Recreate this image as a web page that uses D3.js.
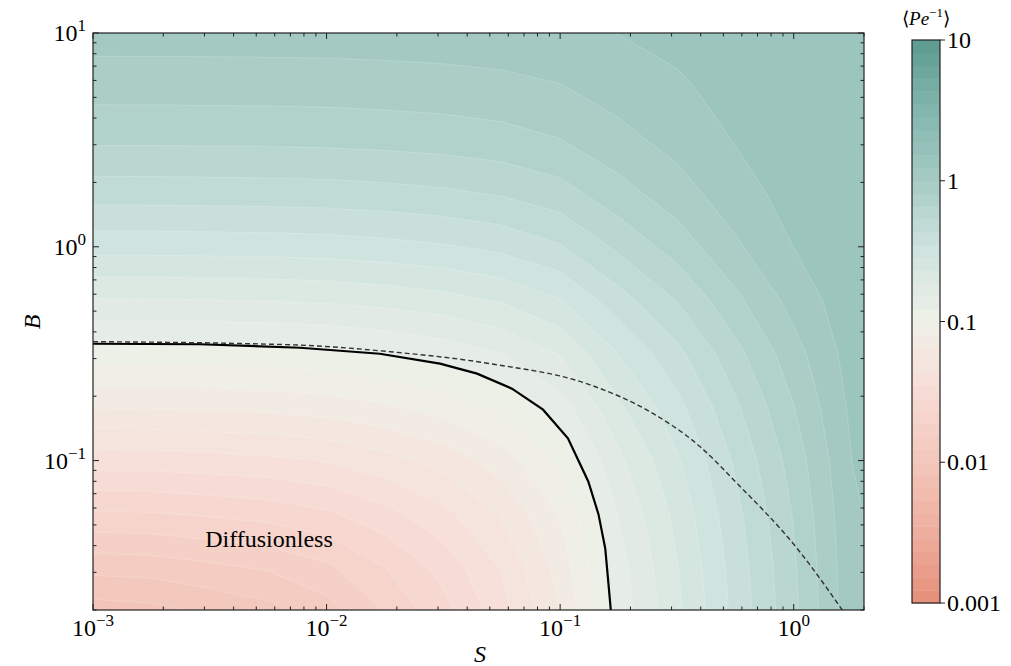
<!DOCTYPE html>
<html>
<head>
<meta charset="utf-8">
<script src="https://cdn.jsdelivr.net/npm/d3@7"></script>
<style>
  body { margin: 0; background: #fff; }
  svg text { font-family: "Liberation Serif", "Times New Roman", serif; fill: #000; }
</style>
</head>
<body>
<div id="chart"></div>
<script>
var sGrid = [0.001, 0.00178, 0.00316, 0.00562, 0.01, 0.0178, 0.0316, 0.0562, 0.1, 0.178, 0.316, 0.562, 1, 1.78, 3.16];
var bGrid = [0.0178, 0.0316, 0.0562, 0.1, 0.178, 0.316, 0.562, 1, 1.78, 3.16, 5.62, 10];

// one row per B value (B ascending), one column per S value
var peInv = [
  [0.0083, 0.0086, 0.0096, 0.0107, 0.0130, 0.0180, 0.0255, 0.0386, 0.0652, 0.1326, 0.2185, 0.3703, 0.6211, 1.1518, 1.4048],
  [0.0132, 0.0135, 0.0145, 0.0156, 0.0180, 0.0231, 0.0308, 0.0441, 0.0713, 0.1402, 0.2278, 0.3827, 0.6376, 1.1668, 1.4106],
  [0.0224, 0.0227, 0.0237, 0.0249, 0.0274, 0.0326, 0.0407, 0.0545, 0.0828, 0.1542, 0.2453, 0.4058, 0.6682, 1.1936, 1.4200],
  [0.0386, 0.0390, 0.0400, 0.0413, 0.0439, 0.0495, 0.0581, 0.0729, 0.1030, 0.1791, 0.2760, 0.4462, 0.7205, 1.2352, 1.4337],
  [0.0666, 0.0670, 0.0682, 0.0696, 0.0725, 0.0787, 0.0882, 0.1045, 0.1378, 0.2219, 0.3285, 0.5145, 0.8057, 1.2925, 1.4509],
  [0.1091, 0.1096, 0.1109, 0.1126, 0.1158, 0.1229, 0.1337, 0.1523, 0.1902, 0.2858, 0.4065, 0.6134, 0.9207, 1.3533, 1.4672],
  [0.1848, 0.1853, 0.1869, 0.1889, 0.1928, 0.2013, 0.2141, 0.2364, 0.2817, 0.3954, 0.5367, 0.7699, 1.0795, 1.4133, 1.4812],
  [0.3082, 0.3089, 0.3108, 0.3131, 0.3179, 0.3281, 0.3437, 0.3705, 0.4248, 0.5589, 0.7201, 0.9647, 1.2353, 1.4531, 1.4901],
  [0.4763, 0.4770, 0.4792, 0.4818, 0.4870, 0.4984, 0.5158, 0.5455, 0.6050, 0.7478, 0.9094, 1.1295, 1.3333, 1.4718, 1.4937],
  [0.6823, 0.6829, 0.6850, 0.6876, 0.6928, 0.7041, 0.7209, 0.7497, 0.8064, 0.9370, 1.0748, 1.2448, 1.3875, 1.4803, 1.4954],
  [0.8872, 0.8878, 0.8896, 0.8919, 0.8963, 0.9058, 0.9203, 0.9445, 0.9912, 1.0951, 1.1986, 1.3197, 1.4179, 1.4840, 1.4962],
  [1.0963, 1.0967, 1.0980, 1.0996, 1.1027, 1.1095, 1.1195, 1.1364, 1.1681, 1.2372, 1.3033, 1.3788, 1.4415, 1.4872, 1.4968]
];

// solid boundary line (S, B)
var solidS = [0.001, 0.00287, 0.0077, 0.0169, 0.0306, 0.0441, 0.0622, 0.0845, 0.108, 0.132, 0.146, 0.156, 0.1607, 0.165];
var solidB = [0.352, 0.350, 0.337, 0.316, 0.284, 0.255, 0.217, 0.173, 0.127, 0.0798, 0.056, 0.0388, 0.0272, 0.0197];

// dashed line (S, B)
var dashS = [0.001, 0.00698, 0.0187, 0.0501, 0.1346, 0.243, 0.398, 0.562, 1.035, 1.63];
var dashB = [0.360, 0.348, 0.323, 0.284, 0.226, 0.169, 0.116, 0.0798, 0.0388, 0.0197];

var xTicks = [0.001, 0.01, 0.1, 1];
var xTickExp = ["\u22123", "\u22122", "\u22121", "0"];
var yTicks = [0.1, 1, 10];
var yTickExp = ["\u22121", "0", "1"];
var cbTicks = [0.001, 0.01, 0.1, 1, 10];
var cbLabels = ["0.001", "0.01", "0.1", "1", "10"];

var width = 1011, height = 666;
var pLeft = 93, pRight = 864, pTop = 33, pBottom = 610;

var svg = d3.select("#chart").append("svg")
    .attr("width", width)
    .attr("height", height);

var x = d3.scaleLog().domain([0.001, 2]).range([pLeft, pRight]);
var y = d3.scaleLog().domain([0.02, 10]).range([pBottom, pTop]);

// colour map on log10 of the value
var cmap = d3.scaleLinear()
    .domain([-3, -2.5, -2, -1.5, -1, -0.5, 0, 0.5, 1])
    .range(["#e58e79", "#eeae9f", "#f3c6ba", "#f7dcd6", "#eff1e8", "#cfe4df", "#a6cbc4", "#83b6ae", "#5b9a90"])
    .interpolate(d3.interpolateLab);

var levels = d3.range(45).map(function (k) { return -3 + k * 4 / 44; });

// grid coordinate -> data value (log interpolation between grid points)
function gridToVal(c, grid) {
    var f = c - 0.5;
    var i = Math.max(0, Math.min(grid.length - 2, Math.floor(f)));
    var t = f - i;
    var a = Math.log10(grid[i]), b = Math.log10(grid[i + 1]);
    return Math.pow(10, a + t * (b - a));
}

var nx = sGrid.length, ny = bGrid.length;
var flat = [];
peInv.forEach(function (row) { row.forEach(function (v) { flat.push(Math.log10(v)); }); });

var contours = d3.contours().size([nx, ny]).thresholds(levels)(flat);

var proj = d3.geoTransform({
    point: function (px, py) {
        this.stream.point(x(gridToVal(px, sGrid)), y(gridToVal(py, bGrid)));
    }
});
var path = d3.geoPath(proj);

svg.append("clipPath").attr("id", "plotclip")
    .append("rect")
    .attr("x", pLeft).attr("y", pTop)
    .attr("width", pRight - pLeft).attr("height", pBottom - pTop);

var field = svg.append("g").attr("clip-path", "url(#plotclip)");

field.selectAll("path.band")
    .data(contours)
    .enter().append("path")
    .attr("class", "band")
    .attr("d", path)
    .attr("fill", function (d) { return cmap(d.value + 2 / 44); })
    .attr("stroke", "#ffffff")
    .attr("stroke-opacity", 0.3)
    .attr("stroke-width", 0.6);

// lines
var dashData = dashS.map(function (s, i) { return [s, dashB[i]]; });
var solidData = solidS.map(function (s, i) { return [s, solidB[i]]; });
var line = d3.line()
    .x(function (d) { return x(d[0]); })
    .y(function (d) { return y(d[1]); });

field.append("path")
    .attr("d", line.curve(d3.curveMonotoneX)(dashData))
    .attr("fill", "none")
    .attr("stroke", "#333")
    .attr("stroke-width", 1.4)
    .attr("stroke-dasharray", "5,3");

field.append("path")
    .attr("d", line.curve(d3.curveLinear)(solidData))
    .attr("fill", "none")
    .attr("stroke", "#000")
    .attr("stroke-width", 2.2);

field.append("text")
    .attr("x", 269).attr("y", 547)
    .attr("text-anchor", "middle")
    .attr("font-size", 24)
    .text("Diffusionless");

// frame
svg.append("rect")
    .attr("x", pLeft).attr("y", pTop)
    .attr("width", pRight - pLeft).attr("height", pBottom - pTop)
    .attr("fill", "none")
    .attr("stroke", "#222")
    .attr("stroke-width", 1.2);

// ticks
var ticksG = svg.append("g").attr("stroke", "#222").attr("stroke-width", 1);
var xMinor = [], yMinor = [];
[-3, -2, -1, 0].forEach(function (d) {
    for (var m = 2; m <= 9; m++) { var v = m * Math.pow(10, d); if (v <= 2) xMinor.push(v); }
});
[-2, -1, 0].forEach(function (d) {
    for (var m = 2; m <= 9; m++) { var v = m * Math.pow(10, d); if (v >= 0.02 && v <= 10) yMinor.push(v); }
});

function xTick(v, len) {
    ticksG.append("line").attr("x1", x(v)).attr("x2", x(v)).attr("y1", pBottom).attr("y2", pBottom - len);
    ticksG.append("line").attr("x1", x(v)).attr("x2", x(v)).attr("y1", pTop).attr("y2", pTop + len);
}
function yTick(v, len) {
    ticksG.append("line").attr("y1", y(v)).attr("y2", y(v)).attr("x1", pLeft).attr("x2", pLeft + len);
    ticksG.append("line").attr("y1", y(v)).attr("y2", y(v)).attr("x1", pRight).attr("x2", pRight - len);
}
xTicks.forEach(function (v) { xTick(v, 6); });
xMinor.forEach(function (v) { xTick(v, 3.5); });
yTicks.forEach(function (v) { yTick(v, 6); });
yMinor.forEach(function (v) { yTick(v, 3.5); });

// tick labels
xTicks.forEach(function (v, i) {
    var t = svg.append("text")
        .attr("x", x(v)).attr("y", 636)
        .attr("text-anchor", "middle")
        .attr("font-size", 24);
    t.append("tspan").text("10");
    t.append("tspan").attr("dy", -10).attr("font-size", 17).text(xTickExp[i]);
});
yTicks.forEach(function (v, i) {
    var t = svg.append("text")
        .attr("x", 86).attr("y", y(v) + 8)
        .attr("text-anchor", "end")
        .attr("font-size", 24);
    t.append("tspan").text("10");
    t.append("tspan").attr("dy", -10).attr("font-size", 17).text(yTickExp[i]);
});

svg.append("text")
    .attr("x", 480).attr("y", 662)
    .attr("text-anchor", "middle")
    .attr("font-size", 24)
    .attr("font-style", "italic")
    .text("S");

svg.append("text")
    .attr("transform", "translate(40,322) rotate(-90)")
    .attr("text-anchor", "middle")
    .attr("font-size", 24)
    .attr("font-style", "italic")
    .text("B");

// colour bar
var cbX = 912, cbW = 28;
var cy = d3.scaleLog().domain([0.001, 10]).range([603, 40]);
var cbBands = levels.slice(0, 44);
svg.selectAll("rect.cb")
    .data(cbBands)
    .enter().append("rect")
    .attr("class", "cb")
    .attr("x", cbX)
    .attr("width", cbW)
    .attr("y", function (d) { return cy(Math.pow(10, d + 4 / 44)); })
    .attr("height", function (d) { return cy(Math.pow(10, d)) - cy(Math.pow(10, d + 4 / 44)) + 0.5; })
    .attr("fill", function (d) { return cmap(d + 2 / 44); });

svg.append("rect")
    .attr("x", cbX).attr("y", 40)
    .attr("width", cbW).attr("height", 563)
    .attr("fill", "none")
    .attr("stroke", "#222")
    .attr("stroke-width", 1.2);

cbTicks.forEach(function (v, i) {
    svg.append("line")
        .attr("x1", cbX + cbW).attr("x2", cbX + cbW + 5)
        .attr("y1", cy(v)).attr("y2", cy(v))
        .attr("stroke", "#222");
    svg.append("text")
        .attr("x", cbX + cbW + 7).attr("y", cy(v) + 8)
        .attr("font-size", 24)
        .text(cbLabels[i]);
});

var ttl = svg.append("text")
    .attr("x", 926).attr("y", 25)
    .attr("text-anchor", "middle")
    .attr("font-size", 19);
ttl.append("tspan").text("\u27E8");
ttl.append("tspan").attr("font-style", "italic").text("Pe");
ttl.append("tspan").attr("dy", -8).attr("font-size", 13).text("\u22121");
ttl.append("tspan").attr("dy", 8).text("\u27E9");
</script>
</body>
</html>
